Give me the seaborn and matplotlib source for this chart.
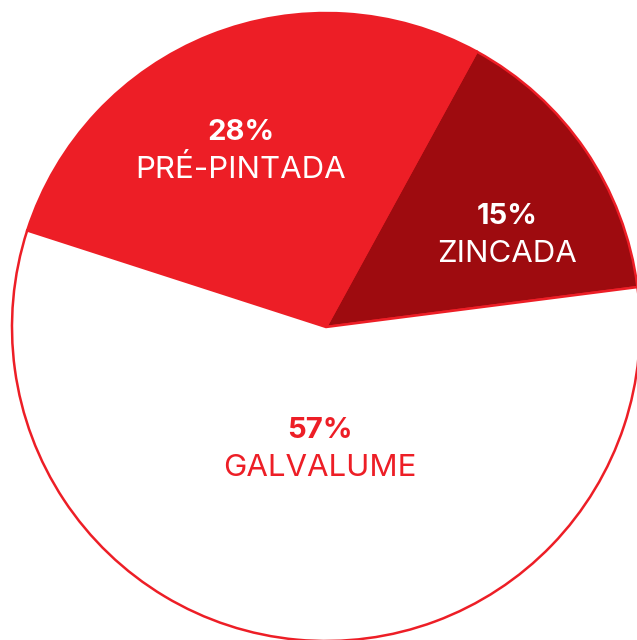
import matplotlib
matplotlib.use("Agg")
import matplotlib.pyplot as plt
import seaborn as sns

# data
labels = ["ZINCADA", "PRÉ-PINTADA", "GALVALUME"]
shares = [15, 28, 57]
colors = ["#9E0B0F", "#ED1E26", "#FFFFFF"]
text_colors = ["white", "white", "#ED1E26"]

sns.set_theme(style="white")
plt.rcParams["font.family"] = ["Inter", "DejaVu Sans"]

fig = plt.figure(figsize=(6.37, 6.40), dpi=100)
ax = fig.add_axes([0, 0, 1, 1])

# pie geometry (pixels): centre (326, 327), radius 314
r_px = 314
cx, cy = 326, 327
W, H = 637, 640

wedges, _ = ax.pie(
    shares,
    colors=colors,
    startangle=7.3,
    counterclock=True,
    radius=1.0,
    wedgeprops=dict(edgecolor="#ED1E26", linewidth=1.8),
)

ax.set_xlim(-cx / r_px, (W - cx) / r_px)
ax.set_ylim(-(H - cy) / r_px, cy / r_px)
ax.set_aspect("auto")
ax.axis("off")


def px(x, y):
    return (x - cx) / r_px, (cy - y) / r_px


# label anchor points (pixels)
label_pos = [(507, 216), (241, 132), (320, 430)]
for lab, val, tc, (lx, ly) in zip(labels, shares, text_colors, label_pos):
    x0, y0 = px(lx, ly)
    x1, y1 = px(lx, ly + 38)
    ax.text(x0, y0, f"{val}%", color=tc, fontsize=21, fontweight="bold",
            ha="center", va="center")
    ax.text(x1, y1, lab, color=tc, fontsize=22.5, fontweight="normal",
            ha="center", va="center")

fig.savefig("out.png", dpi=100)
